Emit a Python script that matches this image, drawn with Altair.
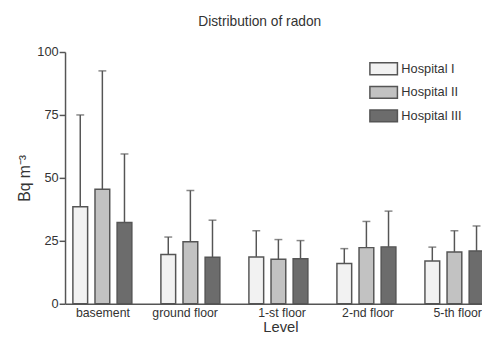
import altair as alt
import pandas as pd

levels = ["basement", "ground floor", "1-st floor", "2-nd floor", "5-th floor"]
hospitals = ["Hospital I", "Hospital II", "Hospital III"]
means = {
    "Hospital I":   [38.5, 19.6, 18.6, 16.0, 17.0],
    "Hospital II":  [45.5, 24.6, 17.7, 22.3, 20.6],
    "Hospital III": [32.3, 18.5, 17.9, 22.6, 21.0],
}
uppers = {
    "Hospital I":   [75.0, 26.5, 29.0, 21.9, 22.5],
    "Hospital II":  [92.5, 45.0, 25.5, 32.7, 29.0],
    "Hospital III": [59.5, 33.2, 25.1, 36.8, 30.9],
}
fills = ["#f2f2f2", "#c2c2c2", "#6c6c6c"]

rows = []
for h in hospitals:
    for i, lv in enumerate(levels):
        rows.append({"Level": lv, "Hospital": h, "mean": means[h][i], "upper": uppers[h][i]})
df = pd.DataFrame(rows)

FONT = "Liberation Sans"
xscale = alt.Scale(domain=levels, range=[0, 447.5], paddingInner=0.33, paddingOuter=0.165, align=0.27)
xoff = alt.XOffset("Hospital:N", sort=hospitals, scale=alt.Scale(paddingInner=0.333, paddingOuter=0))
yscale = alt.Scale(domain=[0, 100])

base = alt.Chart(df)

bars = base.mark_bar(stroke="#555555", strokeWidth=1.5).encode(
    x=alt.X("Level:N", sort=levels, scale=xscale,
            axis=alt.Axis(title="Level", ticks=False, labelPadding=9, labelFontSize=12.5,
                          labelAngle=0, labelOffset=28, titleFontSize=15,
                          titleFontWeight="normal", titleX=219, titlePadding=1)),
    xOffset=xoff,
    y=alt.Y("mean:Q", scale=yscale,
            axis=alt.Axis(title="Bq m⁻³", values=[0, 25, 50, 75, 100], grid=False,
                          tickSize=6, labelPadding=1, labelFontSize=13,
                          titleFontSize=16, titleFontWeight="normal", titlePadding=4)),
    color=alt.Color("Hospital:N", sort=hospitals,
                    scale=alt.Scale(domain=hospitals, range=fills),
                    legend=alt.Legend(title=None, orient="none", legendX=316, legendY=9,
                                      symbolType="M-2,-0.86H2V0.86H-2Z", symbolSize=196,
                                      symbolStrokeColor="#555555", symbolStrokeWidth=1.5,
                                      labelFontSize=13, labelOffset=10, rowPadding=4,
                                      padding=0)),
)

errs = base.mark_rule(color="#555555", strokeWidth=1.5).encode(
    x=alt.X("Level:N", sort=levels, scale=xscale),
    xOffset=xoff,
    y=alt.Y("mean:Q", scale=yscale),
    y2="upper:Q",
)

caps = base.mark_tick(color="#555555", thickness=1.5, size=8, orient="horizontal").encode(
    x=alt.X("Level:N", sort=levels, scale=xscale),
    xOffset=xoff,
    y=alt.Y("upper:Q", scale=yscale),
)

chart = alt.layer(errs, caps, bars).properties(
    width=422, height=256,
    autosize=alt.AutoSizeParams(type="none"),
    padding={"left": 58, "top": 42, "right": 2, "bottom": 28},
    title=alt.TitleParams("Distribution of radon", fontSize=14, fontWeight="normal",
                          offset=17, dx=-13, color="#333333", font=FONT),
).configure_view(stroke=None).configure_axis(
    domainColor="#555555", domainWidth=1.5, tickColor="#555555", tickWidth=1.5,
    labelColor="#333333", titleColor="#333333", labelFont=FONT, titleFont=FONT,
).configure_legend(labelFont=FONT, labelColor="#333333")

chart.save("out.html", embed_options={"renderer": "svg", "actions": False})
